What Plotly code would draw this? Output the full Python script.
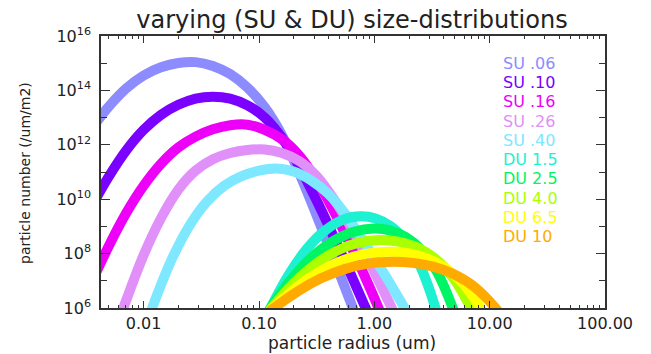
import numpy as np
import plotly.graph_objects as go

# ---- values (log10 radius [um], log10 particle number) ----
su06_logr = [-2.45, -2.3, -2.15, -2.0, -1.85, -1.7, -1.55, -1.4, -1.25, -1.1, -0.95, -0.8, -0.65, -0.5, -0.35, -0.2, -0.05]
su06_logn = [12.6, 13.42, 14.08, 14.55, 14.85, 15.01, 15.04, 14.9, 14.6, 14.1, 13.38, 12.35, 10.95, 9.4, 7.8, 6.15, 4.45]

su10_logr = [-2.45, -2.3, -2.15, -2.0, -1.85, -1.7, -1.55, -1.4, -1.25, -1.1, -0.95, -0.8, -0.65, -0.5, -0.35, -0.2, -0.05, 0.1]
su10_logn = [9.75, 10.85, 11.8, 12.55, 13.1, 13.47, 13.7, 13.77, 13.7, 13.45, 13.0, 12.25, 11.2, 9.95, 8.6, 7.2, 5.75, 4.25]

su16_logr = [-2.45, -2.3, -2.15, -2.0, -1.85, -1.7, -1.55, -1.4, -1.25, -1.1, -0.95, -0.8, -0.65, -0.5, -0.35, -0.2, -0.05, 0.1, 0.25]
su16_logn = [6.95, 8.3, 9.5, 10.5, 11.3, 11.9, 12.3, 12.57, 12.72, 12.74, 12.55, 12.2, 11.6, 10.7, 9.55, 8.25, 6.85, 5.35, 3.75]

su26_logr = [-2.3, -2.15, -2.0, -1.85, -1.7, -1.55, -1.4, -1.25, -1.1, -0.95, -0.8, -0.65, -0.5, -0.35, -0.2, -0.05, 0.1, 0.25]
su26_logn = [4.5, 6.3, 7.95, 9.3, 10.35, 11.05, 11.47, 11.7, 11.81, 11.83, 11.7, 11.4, 10.85, 10.0, 8.95, 7.75, 6.45, 5.1]

su40_logr = [-2.05, -1.9, -1.75, -1.6, -1.45, -1.3, -1.15, -1.0, -0.85, -0.7, -0.55, -0.4, -0.25, -0.1, 0.05, 0.2, 0.35]
su40_logn = [4.5, 6.3, 7.85, 9.05, 9.92, 10.5, 10.85, 11.05, 11.13, 11.02, 10.7, 10.2, 9.45, 8.5, 7.5, 6.45, 5.35]

du15_logr = [-0.978, -0.9, -0.744, -0.588, -0.432, -0.276, -0.12, 0.01, 0.14, 0.27, 0.40, 0.53, 0.595]
du15_logn = [5.29, 6.0, 7.21, 8.16, 8.83, 9.24, 9.37, 9.29, 9.01, 8.47, 7.52, 6.0, 4.96]

du25_logr = [-0.99, -0.9, -0.72, -0.54, -0.36, -0.18, 0.0, 0.136, 0.272, 0.408, 0.544, 0.68, 0.748]
du25_logn = [5.39, 6.0, 7.05, 7.87, 8.45, 8.80, 8.92, 8.85, 8.61, 8.14, 7.32, 6.0, 5.09]

du40_logr = [-0.984, -0.89, -0.702, -0.514, -0.326, -0.138, 0.05, 0.207, 0.364, 0.522, 0.679, 0.836, 0.915]
du40_logn = [5.48, 6.0, 6.9, 7.6, 8.1, 8.4, 8.5, 8.44, 8.24, 7.83, 7.13, 6.0, 5.23]

du65_logr = [-0.98, -0.88, -0.68, -0.48, -0.28, -0.08, 0.12, 0.28, 0.44, 0.60, 0.76, 0.92, 1.0]
du65_logn = [5.57, 6.0, 6.75, 7.33, 7.74, 7.99, 8.07, 8.02, 7.85, 7.52, 6.94, 6.0, 5.36]

du10_logr = [-0.972, -0.87, -0.666, -0.462, -0.258, -0.054, 0.15, 0.33, 0.51, 0.69, 0.87, 1.05, 1.14]
du10_logn = [5.64, 6.0, 6.61, 7.09, 7.43, 7.63, 7.7, 7.66, 7.52, 7.24, 6.77, 6.0, 5.47]

labels = ["SU .06", "SU .10", "SU .16", "SU .26", "SU .40",
          "DU 1.5", "DU 2.5", "DU 4.0", "DU 6.5", "DU 10"]
colors = ["#8C8CFF", "#7A00FF", "#EE00F8", "#E090F8", "#7DE8FF",
          "#1EF0D2", "#00F564", "#AAFF00", "#FFFF00", "#FFAA00"]

x_tickvals = [0.01, 0.1, 1, 10, 100]
x_ticktext = ["0.01", "0.10", "1.00", "10.00", "100.00"]
x_minorvals = [m * 10.0 ** k for k in range(-3, 2) for m in range(2, 10)]
y_tickvals = [1e6, 1e8, 1e10, 1e12, 1e14, 1e16]
y_ticktext = ["10<sup>6</sup>", "10<sup>8</sup>", "10<sup>10</sup>",
              "10<sup>12</sup>", "10<sup>14</sup>", "10<sup>16</sup>"]
y_minorvals = [1e7, 1e9, 1e11, 1e13, 1e15]

series = [
    (su06_logr, su06_logn), (su10_logr, su10_logn), (su16_logr, su16_logn),
    (su26_logr, su26_logn), (su40_logr, su40_logn), (du15_logr, du15_logn),
    (du25_logr, du25_logn), (du40_logr, du40_logn), (du65_logr, du65_logn),
    (du10_logr, du10_logn),
]

FONT = "DejaVu Sans"
INK = "#222222"
AX = "#333333"

fig = go.Figure()
for (lr, ln), lab, col in zip(series, labels, colors):
    fig.add_trace(go.Scatter(
        x=10 ** np.array(lr), y=10 ** np.array(ln), mode="lines", name=lab,
        line=dict(color=col, width=10, shape="spline", smoothing=1.0),
        showlegend=False, hoverinfo="skip"))

W, H = 651, 354
L, R, T, B = 101, 605, 35.5, 308.5      # plot-area edges in page px
ml, mr, mt, mb = L, W - R, T, H - B
pw, ph = R - L, B - T


def pxx(page_x):
    return (page_x - L) / pw


def pxy(page_y):
    return 1 - (page_y - T) / ph


# colored text legend
for i, (lab, col) in enumerate(zip(labels, colors)):
    fig.add_annotation(x=pxx(502), y=pxy(63 + 19.3 * i), xref="paper", yref="paper",
                       text=lab, showarrow=False, xanchor="left", yanchor="middle",
                       borderpad=0, font=dict(family=FONT, size=16, color=col))

# axis titles as annotations (keeps the plot area fixed)
fig.add_annotation(x=pxx(352), y=pxy(344), xref="paper", yref="paper",
                   text="particle radius (um)", showarrow=False, xanchor="center", yanchor="middle",
                   borderpad=0, font=dict(family=FONT, size=17, color=INK))
fig.add_annotation(x=pxx(25), y=pxy(173), xref="paper", yref="paper",
                   text="particle number (/um/m2)", showarrow=False, textangle=-90,
                   xanchor="center", yanchor="middle",
                   font=dict(family=FONT, size=14, color=INK))

axis_common = dict(showline=True, linecolor=AX, linewidth=1.5, mirror="ticks",
                   ticks="inside", showgrid=False, zeroline=False, automargin=False,
                   tickfont=dict(family=FONT, size=16, color=INK))

fig.update_xaxes(type="log", range=[-2.37, 2.0], tickvals=x_tickvals, ticktext=x_ticktext,
                 ticklen=7, tickwidth=1.2, tickcolor=AX,
                 minor=dict(ticks="inside", ticklen=3, tickwidth=1, tickcolor=AX,
                            tickvals=x_minorvals, showgrid=False),
                 ticklabelstandoff=0, **axis_common)
fig.update_yaxes(type="log", range=[6, 16], tickvals=y_tickvals, ticktext=y_ticktext,
                 ticklen=9, tickwidth=1.2, tickcolor=AX,
                 minor=dict(ticks="inside", ticklen=6, tickwidth=1.2, tickcolor=AX,
                            tickvals=y_minorvals, showgrid=False),
                 ticklabelstandoff=5, **axis_common)

fig.update_layout(
    width=W, height=H,
    margin=dict(l=ml, r=mr, t=mt, b=mb, pad=0),
    paper_bgcolor="white", plot_bgcolor="white",
    title=dict(text="varying (SU &amp; DU) size-distributions", x=352 / W, xanchor="center",
               y=1 - 20 / H, yanchor="middle", yref="container", automargin=False,
               font=dict(family=FONT, size=24, color=INK)),
)

# remove the browser's default 8px body margin so the figure sits at the page origin
fig.write_html("out.html", config={"displayModeBar": False},
               post_script="document.body.style.margin='0px';")
